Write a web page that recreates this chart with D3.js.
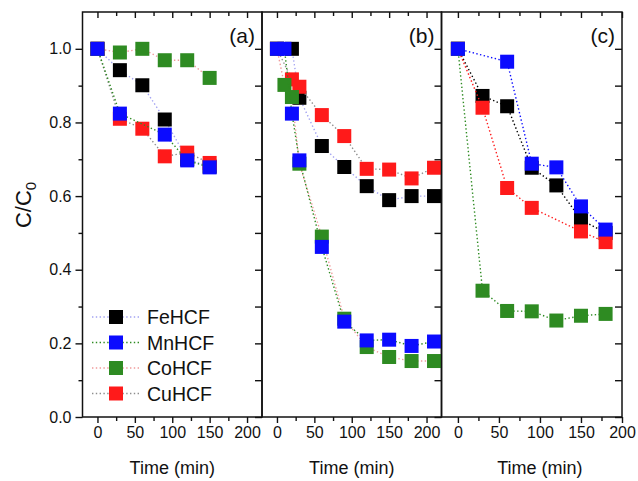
<!DOCTYPE html>
<html>
<head>
<meta charset="utf-8">
<script src="https://cdn.jsdelivr.net/npm/d3@7"></script>
<style>
  body { margin: 0; background: #fff; }
  text { font-family: "Liberation Sans", Arial, sans-serif; fill: #111; }
</style>
</head>
<body>
<svg id="chart" width="638" height="481"></svg>
<script>
// series, in legend order
const seriesNames = ["FeHCF", "MnHCF", "CoHCF", "CuHCF"];
const markerColors = ["#000000", "#0b0bff", "#2e8b22", "#ff1a1a"];
// Origin mixed up the line colours in (a) and (b)
const lineColorsAB = ["#a3a3f2", "#2e8b22", "#f09a9a", "#8e8e8e"];
const panelLabels = ["(a)", "(b)", "(c)"];

// panel (a)
const timeA = {
  FeHCF: [0, 30, 60, 90, 120, 150],
  MnHCF: [0, 30, 90, 120, 150],
  CoHCF: [0, 30, 60, 90, 120, 150],
  CuHCF: [0, 30, 60, 90, 120, 150]
};
const valA = {
  FeHCF: [1.0, 0.942, 0.901, 0.808, 0.70, 0.68],
  MnHCF: [1.0, 0.824, 0.767, 0.697, 0.678],
  CoHCF: [1.0, 0.99, 1.0, 0.969, 0.969, 0.921],
  CuHCF: [1.0, 0.81, 0.783, 0.708, 0.718, 0.69]
};

// panel (b)
const timeB = {
  FeHCF: [0, 20, 30, 60, 90, 120, 150, 180, 210],
  MnHCF: [0, 10, 20, 30, 60, 90, 120, 150, 180, 210],
  CoHCF: [0, 10, 20, 30, 60, 90, 120, 150, 180, 210],
  CuHCF: [0, 20, 30, 60, 90, 120, 150, 180, 210]
};
const valB = {
  FeHCF: [1.0, 1.0, 0.867, 0.736, 0.679, 0.627, 0.589, 0.60, 0.60],
  MnHCF: [1.0, 1.0, 0.824, 0.697, 0.462, 0.259, 0.208, 0.21, 0.193, 0.205],
  CoHCF: [1.0, 0.902, 0.869, 0.688, 0.49, 0.267, 0.19, 0.163, 0.152, 0.152],
  CuHCF: [1.0, 0.917, 0.897, 0.82, 0.763, 0.674, 0.672, 0.648, 0.677]
};

// panel (c)
const timeC = {
  FeHCF: [0, 30, 60, 90, 120, 150, 180],
  MnHCF: [0, 60, 90, 120, 150, 180],
  CoHCF: [0, 30, 60, 90, 120, 150, 180],
  CuHCF: [0, 30, 60, 90, 150, 180]
};
const valC = {
  FeHCF: [1.0, 0.872, 0.844, 0.677, 0.629, 0.536, 0.50],
  MnHCF: [1.0, 0.965, 0.688, 0.678, 0.572, 0.509],
  CoHCF: [1.0, 0.343, 0.288, 0.287, 0.262, 0.275, 0.28],
  CuHCF: [1.0, 0.84, 0.622, 0.568, 0.504, 0.475]
};

const xTicks = [0, 50, 100, 150, 200];
const xMinor = [25, 75, 125, 175];
const yTicks = [0, 0.2, 0.4, 0.6, 0.8, 1.0];
const yMinor = [0.1, 0.3, 0.5, 0.7, 0.9];
const yAll = [0, 0.1, 0.2, 0.3, 0.4, 0.5, 0.6, 0.7, 0.8, 0.9, 1.0];

const svg = d3.select("#chart");
const plotTop = 12, plotBottom = 417;
const panels = [
  { x0: 82.5, x1: 262, domain: [-20, 220], time: timeA, val: valA, lines: lineColorsAB },
  { x0: 262, x1: 441.5, domain: [-20, 220], time: timeB, val: valB, lines: lineColorsAB },
  { x0: 441.5, x1: 622, domain: [-20, 200], time: timeC, val: valC, lines: markerColors }
];

const y = d3.scaleLinear().domain([0, 1.1]).range([plotBottom, plotTop]);
const drawOrder = [0, 3, 2, 1]; // Fe, Cu, Co, Mn (Mn ends on top)
const sq = 14;

function styleAxis(g) {
  g.select(".domain").remove();
  g.selectAll("line").attr("stroke", "#111").attr("stroke-width", 1.4);
  g.selectAll("text").attr("font-size", 16).attr("fill", "#111");
}

panels.forEach((p, pi) => {
  const x = d3.scaleLinear().domain(p.domain).range([p.x0, p.x1]);

  // bottom ticks, outward
  svg.append("g").attr("transform", `translate(0,${plotBottom})`)
    .call(d3.axisBottom(x).tickValues(xTicks).tickSize(6).tickPadding(4).tickFormat(d3.format("d")))
    .call(styleAxis);
  svg.append("g").attr("transform", `translate(0,${plotBottom})`)
    .call(d3.axisBottom(x).tickValues(xMinor).tickSize(4).tickFormat(""))
    .call(styleAxis);
  // top ticks, inward
  svg.append("g").attr("transform", `translate(0,${plotTop})`)
    .call(d3.axisBottom(x).tickValues(xTicks).tickSize(6).tickFormat(""))
    .call(styleAxis);
  svg.append("g").attr("transform", `translate(0,${plotTop})`)
    .call(d3.axisBottom(x).tickValues(xMinor).tickSize(4).tickFormat(""))
    .call(styleAxis);
  // right ticks, inward
  svg.append("g").attr("transform", `translate(${p.x1},0)`)
    .call(d3.axisLeft(y).tickValues(yAll).tickSize(7).tickFormat(""))
    .call(styleAxis);

  if (pi === 0) {
    svg.append("g").attr("transform", `translate(${p.x0},0)`)
      .call(d3.axisLeft(y).tickValues(yTicks).tickSize(7).tickPadding(4).tickFormat(d3.format(".1f")))
      .call(styleAxis);
    svg.append("g").attr("transform", `translate(${p.x0},0)`)
      .call(d3.axisLeft(y).tickValues(yMinor).tickSize(4).tickFormat(""))
      .call(styleAxis);
  }

  // frame
  svg.append("rect")
    .attr("x", p.x0).attr("y", plotTop)
    .attr("width", p.x1 - p.x0).attr("height", plotBottom - plotTop)
    .attr("fill", "none").attr("stroke", "#111").attr("stroke-width", 1.5);

  const line = d3.line().x(d => x(d[0])).y(d => y(d[1]));

  drawOrder.forEach(si => {
    const name = seriesNames[si];
    const pts = p.time[name].map((t, i) => [t, p.val[name][i]]);
    svg.append("path").datum(pts)
      .attr("d", line)
      .attr("fill", "none")
      .attr("stroke", p.lines[si])
      .attr("stroke-width", 1.4)
      .attr("stroke-dasharray", "1.4,2.4");
    svg.append("g").selectAll("rect").data(pts).join("rect")
      .attr("x", d => x(d[0]) - sq / 2)
      .attr("y", d => y(d[1]) - sq / 2)
      .attr("width", sq).attr("height", sq)
      .attr("fill", markerColors[si]);
  });

  svg.append("text")
    .attr("x", p.x1 - 7).attr("y", 43)
    .attr("text-anchor", "end")
    .attr("font-size", 21)
    .text(panelLabels[pi]);

  svg.append("text")
    .attr("x", x(100)).attr("y", 474)
    .attr("text-anchor", "middle")
    .attr("font-size", 18)
    .text("Time (min)");
});

// legend inside panel (a)
const legend = svg.append("g");
seriesNames.forEach((name, i) => {
  const ly = 317 + i * 25.5;
  legend.append("line")
    .attr("x1", 92).attr("x2", 139).attr("y1", ly).attr("y2", ly)
    .attr("stroke", lineColorsAB[i]).attr("stroke-width", 1.4)
    .attr("stroke-dasharray", "1.4,2.4");
  legend.append("rect")
    .attr("x", 116 - sq / 2).attr("y", ly - sq / 2)
    .attr("width", sq).attr("height", sq)
    .attr("fill", markerColors[i]);
  legend.append("text")
    .attr("x", 147).attr("y", ly + 7)
    .attr("font-size", 19.5)
    .text(name);
});

// y label C/C0
const ylab = svg.append("text")
  .attr("transform", "translate(31,205) rotate(-90)")
  .attr("text-anchor", "middle")
  .attr("font-size", 22);
ylab.append("tspan").text("C/C");
ylab.append("tspan").attr("font-size", 15).attr("dy", 5).text("0");
</script>
</body>
</html>
